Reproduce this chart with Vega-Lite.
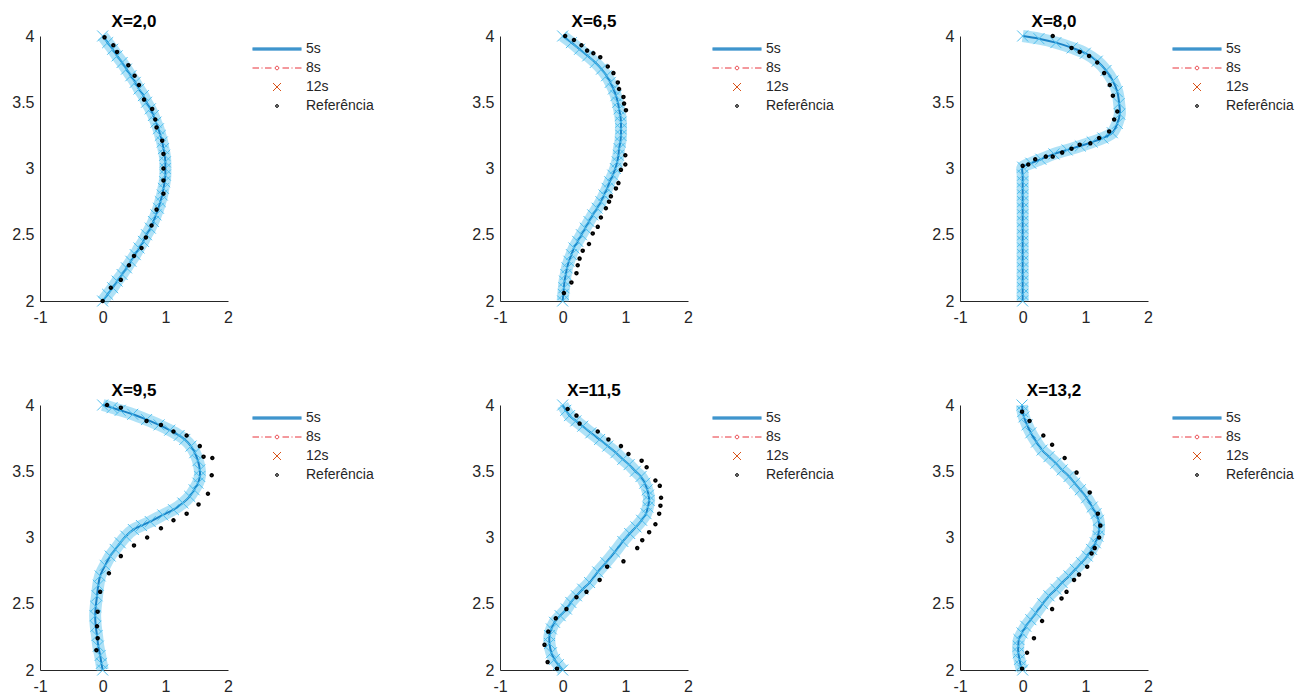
{
  "$schema": "https://vega.github.io/schema/vega-lite/v6.json",
  "background": "white",
  "padding": {"left": 11, "top": 12, "right": 5, "bottom": 5},
  "config": {
    "view": {"stroke": null},
    "axis": {"domainColor": "#262626", "domainWidth": 1, "labelColor": "#262626", "labelFont": "Liberation Sans", "labelFontSize": 16, "ticks": false, "grid": false, "title": null, "labelFlush": false, "labelOverlap": false, "labelPadding": 6, "format": "~g"},
    "axisX": {"labelPadding": 8},
    "title": {"font": "Liberation Sans", "fontSize": 17, "fontWeight": "bold", "color": "#000000", "offset": 6, "anchor": "middle", "frame": "group", "dy": 25},
    "legend": {"labelFont": "Liberation Sans", "labelFontSize": 14, "labelColor": "#262626", "symbolSize": 100, "symbolStrokeWidth": 1, "labelOffset": 22, "rowPadding": 5, "padding": 0}
  },
  "datasets": {
    "sim": [
      {"p":"X=2,0","y":4.0,"x":0.0},{"p":"X=2,0","y":3.95,"x":0.08},{"p":"X=2,0","y":3.9,"x":0.16},{"p":"X=2,0","y":3.85,"x":0.23},{"p":"X=2,0","y":3.8,"x":0.31},{"p":"X=2,0","y":3.75,"x":0.38},{"p":"X=2,0","y":3.7,"x":0.45},{"p":"X=2,0","y":3.65,"x":0.52},{"p":"X=2,0","y":3.6,"x":0.58},{"p":"X=2,0","y":3.55,"x":0.65},{"p":"X=2,0","y":3.5,"x":0.7},{"p":"X=2,0","y":3.45,"x":0.76},{"p":"X=2,0","y":3.4,"x":0.81},{"p":"X=2,0","y":3.35,"x":0.85},{"p":"X=2,0","y":3.3,"x":0.89},{"p":"X=2,0","y":3.25,"x":0.92},{"p":"X=2,0","y":3.2,"x":0.95},{"p":"X=2,0","y":3.15,"x":0.97},{"p":"X=2,0","y":3.1,"x":0.99},{"p":"X=2,0","y":3.05,"x":1.0},{"p":"X=2,0","y":3.0,"x":1.0},{"p":"X=2,0","y":2.95,"x":1.0},{"p":"X=2,0","y":2.9,"x":0.99},{"p":"X=2,0","y":2.85,"x":0.97},{"p":"X=2,0","y":2.8,"x":0.95},{"p":"X=2,0","y":2.75,"x":0.92},{"p":"X=2,0","y":2.7,"x":0.89},{"p":"X=2,0","y":2.65,"x":0.85},{"p":"X=2,0","y":2.6,"x":0.81},{"p":"X=2,0","y":2.55,"x":0.76},{"p":"X=2,0","y":2.5,"x":0.7},{"p":"X=2,0","y":2.45,"x":0.65},{"p":"X=2,0","y":2.4,"x":0.58},{"p":"X=2,0","y":2.35,"x":0.52},{"p":"X=2,0","y":2.3,"x":0.45},{"p":"X=2,0","y":2.25,"x":0.38},{"p":"X=2,0","y":2.2,"x":0.31},{"p":"X=2,0","y":2.15,"x":0.23},{"p":"X=2,0","y":2.1,"x":0.16},{"p":"X=2,0","y":2.05,"x":0.08},{"p":"X=2,0","y":2.0,"x":0.0},

      {"p":"X=6,5","y":4.0,"x":0.0},{"p":"X=6,5","y":3.95,"x":0.14},{"p":"X=6,5","y":3.9,"x":0.27},{"p":"X=6,5","y":3.85,"x":0.4},{"p":"X=6,5","y":3.8,"x":0.52},{"p":"X=6,5","y":3.75,"x":0.62},{"p":"X=6,5","y":3.7,"x":0.7},{"p":"X=6,5","y":3.65,"x":0.76},{"p":"X=6,5","y":3.6,"x":0.81},{"p":"X=6,5","y":3.55,"x":0.85},{"p":"X=6,5","y":3.5,"x":0.88},{"p":"X=6,5","y":3.45,"x":0.9},{"p":"X=6,5","y":3.4,"x":0.92},{"p":"X=6,5","y":3.35,"x":0.93},{"p":"X=6,5","y":3.3,"x":0.93},{"p":"X=6,5","y":3.25,"x":0.93},{"p":"X=6,5","y":3.2,"x":0.92},{"p":"X=6,5","y":3.15,"x":0.9},{"p":"X=6,5","y":3.1,"x":0.89},{"p":"X=6,5","y":3.05,"x":0.87},{"p":"X=6,5","y":3.0,"x":0.84},{"p":"X=6,5","y":2.95,"x":0.8},{"p":"X=6,5","y":2.9,"x":0.75},{"p":"X=6,5","y":2.85,"x":0.71},{"p":"X=6,5","y":2.8,"x":0.66},{"p":"X=6,5","y":2.75,"x":0.61},{"p":"X=6,5","y":2.7,"x":0.55},{"p":"X=6,5","y":2.65,"x":0.48},{"p":"X=6,5","y":2.6,"x":0.42},{"p":"X=6,5","y":2.55,"x":0.36},{"p":"X=6,5","y":2.5,"x":0.3},{"p":"X=6,5","y":2.45,"x":0.24},{"p":"X=6,5","y":2.4,"x":0.18},{"p":"X=6,5","y":2.35,"x":0.14},{"p":"X=6,5","y":2.3,"x":0.1},{"p":"X=6,5","y":2.25,"x":0.07},{"p":"X=6,5","y":2.2,"x":0.05},{"p":"X=6,5","y":2.15,"x":0.03},{"p":"X=6,5","y":2.1,"x":0.02},{"p":"X=6,5","y":2.05,"x":0.01},{"p":"X=6,5","y":2.0,"x":0.0},

      {"p":"X=8,0","y":4.0,"x":0.0},{"p":"X=8,0","y":3.98,"x":0.26},{"p":"X=8,0","y":3.95,"x":0.53},{"p":"X=8,0","y":3.91,"x":0.79},{"p":"X=8,0","y":3.87,"x":1.0},{"p":"X=8,0","y":3.81,"x":1.19},{"p":"X=8,0","y":3.74,"x":1.33},{"p":"X=8,0","y":3.66,"x":1.44},{"p":"X=8,0","y":3.58,"x":1.51},{"p":"X=8,0","y":3.49,"x":1.54},{"p":"X=8,0","y":3.41,"x":1.55},{"p":"X=8,0","y":3.34,"x":1.51},{"p":"X=8,0","y":3.27,"x":1.43},{"p":"X=8,0","y":3.23,"x":1.28},{"p":"X=8,0","y":3.2,"x":1.11},{"p":"X=8,0","y":3.17,"x":0.92},{"p":"X=8,0","y":3.14,"x":0.71},{"p":"X=8,0","y":3.11,"x":0.5},{"p":"X=8,0","y":3.07,"x":0.29},{"p":"X=8,0","y":3.04,"x":0.13},{"p":"X=8,0","y":3.01,"x":0.0},{"p":"X=8,0","y":2.95,"x":0.0},{"p":"X=8,0","y":2.9,"x":0.0},{"p":"X=8,0","y":2.85,"x":0.0},{"p":"X=8,0","y":2.8,"x":0.0},{"p":"X=8,0","y":2.75,"x":0.0},{"p":"X=8,0","y":2.7,"x":0.0},{"p":"X=8,0","y":2.65,"x":0.0},{"p":"X=8,0","y":2.6,"x":0.0},{"p":"X=8,0","y":2.55,"x":0.0},{"p":"X=8,0","y":2.5,"x":0.0},{"p":"X=8,0","y":2.45,"x":0.0},{"p":"X=8,0","y":2.4,"x":0.0},{"p":"X=8,0","y":2.35,"x":0.0},{"p":"X=8,0","y":2.3,"x":0.0},{"p":"X=8,0","y":2.25,"x":0.0},{"p":"X=8,0","y":2.2,"x":0.0},{"p":"X=8,0","y":2.15,"x":0.0},{"p":"X=8,0","y":2.1,"x":0.0},{"p":"X=8,0","y":2.05,"x":0.0},{"p":"X=8,0","y":2.0,"x":0.0},

      {"p":"X=9,5","y":4.0,"x":0.0},{"p":"X=9,5","y":3.98,"x":0.15},{"p":"X=9,5","y":3.96,"x":0.28},{"p":"X=9,5","y":3.93,"x":0.48},{"p":"X=9,5","y":3.89,"x":0.7},{"p":"X=9,5","y":3.85,"x":0.9},{"p":"X=9,5","y":3.81,"x":1.07},{"p":"X=9,5","y":3.77,"x":1.22},{"p":"X=9,5","y":3.74,"x":1.31},{"p":"X=9,5","y":3.69,"x":1.41},{"p":"X=9,5","y":3.64,"x":1.47},{"p":"X=9,5","y":3.58,"x":1.52},{"p":"X=9,5","y":3.51,"x":1.55},{"p":"X=9,5","y":3.46,"x":1.55},{"p":"X=9,5","y":3.41,"x":1.52},{"p":"X=9,5","y":3.36,"x":1.46},{"p":"X=9,5","y":3.31,"x":1.39},{"p":"X=9,5","y":3.26,"x":1.28},{"p":"X=9,5","y":3.21,"x":1.13},{"p":"X=9,5","y":3.17,"x":0.96},{"p":"X=9,5","y":3.12,"x":0.76},{"p":"X=9,5","y":3.09,"x":0.62},{"p":"X=9,5","y":3.06,"x":0.49},{"p":"X=9,5","y":3.01,"x":0.37},{"p":"X=9,5","y":2.96,"x":0.28},{"p":"X=9,5","y":2.91,"x":0.2},{"p":"X=9,5","y":2.86,"x":0.12},{"p":"X=9,5","y":2.79,"x":0.04},{"p":"X=9,5","y":2.71,"x":-0.04},{"p":"X=9,5","y":2.64,"x":-0.07},{"p":"X=9,5","y":2.56,"x":-0.09},{"p":"X=9,5","y":2.48,"x":-0.11},{"p":"X=9,5","y":2.41,"x":-0.12},{"p":"X=9,5","y":2.33,"x":-0.11},{"p":"X=9,5","y":2.26,"x":-0.09},{"p":"X=9,5","y":2.18,"x":-0.07},{"p":"X=9,5","y":2.11,"x":-0.04},{"p":"X=9,5","y":2.05,"x":-0.02},{"p":"X=9,5","y":2.0,"x":0.0},

      {"p":"X=11,5","y":4.0,"x":0.0},{"p":"X=11,5","y":3.96,"x":0.05},{"p":"X=11,5","y":3.92,"x":0.11},{"p":"X=11,5","y":3.88,"x":0.21},{"p":"X=11,5","y":3.84,"x":0.32},{"p":"X=11,5","y":3.79,"x":0.45},{"p":"X=11,5","y":3.74,"x":0.59},{"p":"X=11,5","y":3.69,"x":0.72},{"p":"X=11,5","y":3.64,"x":0.85},{"p":"X=11,5","y":3.59,"x":0.96},{"p":"X=11,5","y":3.55,"x":1.06},{"p":"X=11,5","y":3.5,"x":1.16},{"p":"X=11,5","y":3.46,"x":1.25},{"p":"X=11,5","y":3.41,"x":1.31},{"p":"X=11,5","y":3.36,"x":1.35},{"p":"X=11,5","y":3.32,"x":1.37},{"p":"X=11,5","y":3.28,"x":1.38},{"p":"X=11,5","y":3.23,"x":1.36},{"p":"X=11,5","y":3.18,"x":1.33},{"p":"X=11,5","y":3.13,"x":1.26},{"p":"X=11,5","y":3.08,"x":1.17},{"p":"X=11,5","y":3.03,"x":1.07},{"p":"X=11,5","y":2.97,"x":0.96},{"p":"X=11,5","y":2.89,"x":0.83},{"p":"X=11,5","y":2.81,"x":0.69},{"p":"X=11,5","y":2.74,"x":0.56},{"p":"X=11,5","y":2.66,"x":0.43},{"p":"X=11,5","y":2.61,"x":0.32},{"p":"X=11,5","y":2.56,"x":0.22},{"p":"X=11,5","y":2.51,"x":0.13},{"p":"X=11,5","y":2.46,"x":0.06},{"p":"X=11,5","y":2.41,"x":-0.04},{"p":"X=11,5","y":2.36,"x":-0.13},{"p":"X=11,5","y":2.31,"x":-0.18},{"p":"X=11,5","y":2.26,"x":-0.21},{"p":"X=11,5","y":2.2,"x":-0.21},{"p":"X=11,5","y":2.13,"x":-0.18},{"p":"X=11,5","y":2.08,"x":-0.13},{"p":"X=11,5","y":2.04,"x":-0.07},{"p":"X=11,5","y":2.0,"x":0.0},

      {"p":"X=13,2","y":4.0,"x":-0.01},{"p":"X=13,2","y":3.95,"x":0.0},{"p":"X=13,2","y":3.91,"x":0.02},{"p":"X=13,2","y":3.85,"x":0.07},{"p":"X=13,2","y":3.79,"x":0.13},{"p":"X=13,2","y":3.72,"x":0.22},{"p":"X=13,2","y":3.66,"x":0.31},{"p":"X=13,2","y":3.61,"x":0.42},{"p":"X=13,2","y":3.56,"x":0.53},{"p":"X=13,2","y":3.51,"x":0.63},{"p":"X=13,2","y":3.46,"x":0.74},{"p":"X=13,2","y":3.41,"x":0.83},{"p":"X=13,2","y":3.36,"x":0.92},{"p":"X=13,2","y":3.3,"x":1.02},{"p":"X=13,2","y":3.23,"x":1.11},{"p":"X=13,2","y":3.18,"x":1.17},{"p":"X=13,2","y":3.13,"x":1.21},{"p":"X=13,2","y":3.06,"x":1.22},{"p":"X=13,2","y":3.01,"x":1.2},{"p":"X=13,2","y":2.96,"x":1.16},{"p":"X=13,2","y":2.91,"x":1.1},{"p":"X=13,2","y":2.86,"x":1.03},{"p":"X=13,2","y":2.81,"x":0.94},{"p":"X=13,2","y":2.76,"x":0.84},{"p":"X=13,2","y":2.71,"x":0.74},{"p":"X=13,2","y":2.66,"x":0.63},{"p":"X=13,2","y":2.61,"x":0.53},{"p":"X=13,2","y":2.56,"x":0.42},{"p":"X=13,2","y":2.5,"x":0.32},{"p":"X=13,2","y":2.43,"x":0.21},{"p":"X=13,2","y":2.38,"x":0.13},{"p":"X=13,2","y":2.33,"x":0.05},{"p":"X=13,2","y":2.28,"x":-0.01},{"p":"X=13,2","y":2.23,"x":-0.06},{"p":"X=13,2","y":2.18,"x":-0.07},{"p":"X=13,2","y":2.13,"x":-0.07},{"p":"X=13,2","y":2.08,"x":-0.05},{"p":"X=13,2","y":2.03,"x":-0.03},{"p":"X=13,2","y":2.0,"x":0.0}
    ],
    "ref": [
      {"p":"X=2,0","s":"Referência","y":3.99,"x":0.03},{"p":"X=2,0","s":"Referência","y":3.93,"x":0.17},{"p":"X=2,0","s":"Referência","y":3.88,"x":0.23},{"p":"X=2,0","s":"Referência","y":3.78,"x":0.41},{"p":"X=2,0","s":"Referência","y":3.7,"x":0.51},{"p":"X=2,0","s":"Referência","y":3.63,"x":0.58},{"p":"X=2,0","s":"Referência","y":3.52,"x":0.66},{"p":"X=2,0","s":"Referência","y":3.45,"x":0.79},{"p":"X=2,0","s":"Referência","y":3.37,"x":0.84},{"p":"X=2,0","s":"Referência","y":3.31,"x":0.86},{"p":"X=2,0","s":"Referência","y":3.21,"x":0.95},{"p":"X=2,0","s":"Referência","y":3.11,"x":0.97},{"p":"X=2,0","s":"Referência","y":3.0,"x":0.97},{"p":"X=2,0","s":"Referência","y":2.91,"x":0.97},{"p":"X=2,0","s":"Referência","y":2.81,"x":0.97},{"p":"X=2,0","s":"Referência","y":2.69,"x":0.86},{"p":"X=2,0","s":"Referência","y":2.57,"x":0.78},{"p":"X=2,0","s":"Referência","y":2.48,"x":0.69},{"p":"X=2,0","s":"Referência","y":2.4,"x":0.62},{"p":"X=2,0","s":"Referência","y":2.34,"x":0.5},{"p":"X=2,0","s":"Referência","y":2.27,"x":0.42},{"p":"X=2,0","s":"Referência","y":2.16,"x":0.29},{"p":"X=2,0","s":"Referência","y":2.1,"x":0.13},{"p":"X=2,0","s":"Referência","y":2.0,"x":0.0},

      {"p":"X=6,5","s":"Referência","y":4.0,"x":0.04},{"p":"X=6,5","s":"Referência","y":3.97,"x":0.18},{"p":"X=6,5","s":"Referência","y":3.93,"x":0.3},{"p":"X=6,5","s":"Referência","y":3.89,"x":0.39},{"p":"X=6,5","s":"Referência","y":3.87,"x":0.49},{"p":"X=6,5","s":"Referência","y":3.84,"x":0.6},{"p":"X=6,5","s":"Referência","y":3.77,"x":0.72},{"p":"X=6,5","s":"Referência","y":3.72,"x":0.81},{"p":"X=6,5","s":"Referência","y":3.65,"x":0.88},{"p":"X=6,5","s":"Referência","y":3.6,"x":0.9},{"p":"X=6,5","s":"Referência","y":3.54,"x":0.97},{"p":"X=6,5","s":"Referência","y":3.49,"x":0.98},{"p":"X=6,5","s":"Referência","y":3.44,"x":1.01},{"p":"X=6,5","s":"Referência","y":3.1,"x":1.0},{"p":"X=6,5","s":"Referência","y":3.03,"x":1.0},{"p":"X=6,5","s":"Referência","y":2.99,"x":0.93},{"p":"X=6,5","s":"Referência","y":2.89,"x":0.89},{"p":"X=6,5","s":"Referência","y":2.85,"x":0.85},{"p":"X=6,5","s":"Referência","y":2.79,"x":0.77},{"p":"X=6,5","s":"Referência","y":2.75,"x":0.74},{"p":"X=6,5","s":"Referência","y":2.7,"x":0.69},{"p":"X=6,5","s":"Referência","y":2.63,"x":0.61},{"p":"X=6,5","s":"Referência","y":2.56,"x":0.56},{"p":"X=6,5","s":"Referência","y":2.51,"x":0.48},{"p":"X=6,5","s":"Referência","y":2.43,"x":0.42},{"p":"X=6,5","s":"Referência","y":2.38,"x":0.32},{"p":"X=6,5","s":"Referência","y":2.32,"x":0.27},{"p":"X=6,5","s":"Referência","y":2.27,"x":0.24},{"p":"X=6,5","s":"Referência","y":2.21,"x":0.22},{"p":"X=6,5","s":"Referência","y":2.14,"x":0.14},{"p":"X=6,5","s":"Referência","y":2.06,"x":0.02},

      {"p":"X=8,0","s":"Referência","y":4.0,"x":0.48},{"p":"X=8,0","s":"Referência","y":3.91,"x":0.78},{"p":"X=8,0","s":"Referência","y":3.88,"x":0.91},{"p":"X=8,0","s":"Referência","y":3.85,"x":1.06},{"p":"X=8,0","s":"Referência","y":3.8,"x":1.19},{"p":"X=8,0","s":"Referência","y":3.72,"x":1.3},{"p":"X=8,0","s":"Referência","y":3.63,"x":1.39},{"p":"X=8,0","s":"Referência","y":3.55,"x":1.44},{"p":"X=8,0","s":"Referência","y":3.43,"x":1.51},{"p":"X=8,0","s":"Referência","y":3.37,"x":1.46},{"p":"X=8,0","s":"Referência","y":3.28,"x":1.38},{"p":"X=8,0","s":"Referência","y":3.23,"x":1.22},{"p":"X=8,0","s":"Referência","y":3.19,"x":1.08},{"p":"X=8,0","s":"Referência","y":3.18,"x":0.91},{"p":"X=8,0","s":"Referência","y":3.15,"x":0.78},{"p":"X=8,0","s":"Referência","y":3.12,"x":0.63},{"p":"X=8,0","s":"Referência","y":3.09,"x":0.48},{"p":"X=8,0","s":"Referência","y":3.09,"x":0.37},{"p":"X=8,0","s":"Referência","y":3.07,"x":0.2},{"p":"X=8,0","s":"Referência","y":3.03,"x":0.09},{"p":"X=8,0","s":"Referência","y":3.02,"x":0.0},

      {"p":"X=9,5","s":"Referência","y":4.0,"x":0.07},{"p":"X=9,5","s":"Referência","y":3.98,"x":0.29},{"p":"X=9,5","s":"Referência","y":3.88,"x":0.7},{"p":"X=9,5","s":"Referência","y":3.85,"x":0.93},{"p":"X=9,5","s":"Referência","y":3.8,"x":1.13},{"p":"X=9,5","s":"Referência","y":3.77,"x":1.34},{"p":"X=9,5","s":"Referência","y":3.69,"x":1.55},{"p":"X=9,5","s":"Referência","y":3.61,"x":1.61},{"p":"X=9,5","s":"Referência","y":3.6,"x":1.75},{"p":"X=9,5","s":"Referência","y":3.47,"x":1.74},{"p":"X=9,5","s":"Referência","y":3.33,"x":1.68},{"p":"X=9,5","s":"Referência","y":3.25,"x":1.53},{"p":"X=9,5","s":"Referência","y":3.18,"x":1.34},{"p":"X=9,5","s":"Referência","y":3.13,"x":1.13},{"p":"X=9,5","s":"Referência","y":3.07,"x":0.93},{"p":"X=9,5","s":"Referência","y":3.0,"x":0.71},{"p":"X=9,5","s":"Referência","y":2.94,"x":0.5},{"p":"X=9,5","s":"Referência","y":2.86,"x":0.29},{"p":"X=9,5","s":"Referência","y":2.73,"x":0.1},{"p":"X=9,5","s":"Referência","y":2.59,"x":-0.04},{"p":"X=9,5","s":"Referência","y":2.44,"x":-0.08},{"p":"X=9,5","s":"Referência","y":2.33,"x":-0.09},{"p":"X=9,5","s":"Referência","y":2.24,"x":-0.08},{"p":"X=9,5","s":"Referência","y":2.15,"x":-0.1},

      {"p":"X=11,5","s":"Referência","y":3.97,"x":0.08},{"p":"X=11,5","s":"Referência","y":3.92,"x":0.22},{"p":"X=11,5","s":"Referência","y":3.86,"x":0.27},{"p":"X=11,5","s":"Referência","y":3.8,"x":0.56},{"p":"X=11,5","s":"Referência","y":3.74,"x":0.73},{"p":"X=11,5","s":"Referência","y":3.69,"x":0.93},{"p":"X=11,5","s":"Referência","y":3.63,"x":1.05},{"p":"X=11,5","s":"Referência","y":3.58,"x":1.26},{"p":"X=11,5","s":"Referência","y":3.53,"x":1.34},{"p":"X=11,5","s":"Referência","y":3.43,"x":1.48},{"p":"X=11,5","s":"Referência","y":3.39,"x":1.55},{"p":"X=11,5","s":"Referência","y":3.3,"x":1.57},{"p":"X=11,5","s":"Referência","y":3.24,"x":1.56},{"p":"X=11,5","s":"Referência","y":3.18,"x":1.54},{"p":"X=11,5","s":"Referência","y":3.1,"x":1.48},{"p":"X=11,5","s":"Referência","y":3.04,"x":1.38},{"p":"X=11,5","s":"Referência","y":2.98,"x":1.27},{"p":"X=11,5","s":"Referência","y":2.92,"x":1.19},{"p":"X=11,5","s":"Referência","y":2.82,"x":0.97},{"p":"X=11,5","s":"Referência","y":2.78,"x":0.71},{"p":"X=11,5","s":"Referência","y":2.68,"x":0.59},{"p":"X=11,5","s":"Referência","y":2.59,"x":0.38},{"p":"X=11,5","s":"Referência","y":2.55,"x":0.22},{"p":"X=11,5","s":"Referência","y":2.46,"x":0.06},{"p":"X=11,5","s":"Referência","y":2.39,"x":-0.11},{"p":"X=11,5","s":"Referência","y":2.29,"x":-0.23},{"p":"X=11,5","s":"Referência","y":2.19,"x":-0.29},{"p":"X=11,5","s":"Referência","y":2.06,"x":-0.24},{"p":"X=11,5","s":"Referência","y":2.01,"x":-0.09},

      {"p":"X=13,2","s":"Referência","y":3.95,"x":-0.01},{"p":"X=13,2","s":"Referência","y":3.88,"x":0.11},{"p":"X=13,2","s":"Referência","y":3.77,"x":0.33},{"p":"X=13,2","s":"Referência","y":3.7,"x":0.47},{"p":"X=13,2","s":"Referência","y":3.6,"x":0.67},{"p":"X=13,2","s":"Referência","y":3.49,"x":0.86},{"p":"X=13,2","s":"Referência","y":3.34,"x":1.07},{"p":"X=13,2","s":"Referência","y":3.18,"x":1.2},{"p":"X=13,2","s":"Referência","y":3.09,"x":1.24},{"p":"X=13,2","s":"Referência","y":3.0,"x":1.22},{"p":"X=13,2","s":"Referência","y":2.92,"x":1.15},{"p":"X=13,2","s":"Referência","y":2.88,"x":1.1},{"p":"X=13,2","s":"Referência","y":2.78,"x":1.03},{"p":"X=13,2","s":"Referência","y":2.72,"x":0.9},{"p":"X=13,2","s":"Referência","y":2.68,"x":0.82},{"p":"X=13,2","s":"Referência","y":2.59,"x":0.7},{"p":"X=13,2","s":"Referência","y":2.54,"x":0.62},{"p":"X=13,2","s":"Referência","y":2.46,"x":0.47},{"p":"X=13,2","s":"Referência","y":2.37,"x":0.31},{"p":"X=13,2","s":"Referência","y":2.24,"x":0.18},{"p":"X=13,2","s":"Referência","y":2.13,"x":0.07},{"p":"X=13,2","s":"Referência","y":2.01,"x":-0.01}
    ]
  },
  "columns": 3,
  "spacing": {"row": 104, "column": 272},
  "bounds": "flush",
  "resolve": {"scale": {"color": "independent", "shape": "independent"}, "legend": {"color": "independent", "shape": "independent"}},
  "concat": [
    {"title": "X=2,0", "width": 188, "height": 265, "layer": [
      {"data": {"name": "sim"}, "transform": [{"filter": "datum.p == 'X=2,0'"}], "mark": {"type": "line", "color": "#4DBEEE", "strokeWidth": 12, "opacity": 0.45, "interpolate": "catmull-rom"}, "encoding": {"x": {"field": "x", "type": "quantitative", "scale": {"domain": [-1, 2], "nice": false, "zero": false}, "axis": {"values": [-1, 0, 1, 2], "labelExpr": "datum.value < 0 ? '-' + format(-datum.value, '~g') : format(datum.value, '~g')"}}, "y": {"field": "y", "type": "quantitative", "scale": {"domain": [2, 4], "nice": false, "zero": false}, "axis": {"values": [2, 2.5, 3, 3.5, 4]}}, "order": {"field": "y", "type": "quantitative"}}},
      {"data": {"name": "sim"}, "transform": [{"filter": "datum.p == 'X=2,0'"}], "mark": {"type": "line", "color": "#0072BD", "strokeWidth": 2, "opacity": 0.85, "interpolate": "catmull-rom"}, "encoding": {"x": {"field": "x", "type": "quantitative"}, "y": {"field": "y", "type": "quantitative"}, "order": {"field": "y", "type": "quantitative"}}},
      {"data": {"name": "sim"}, "transform": [{"filter": "datum.p == 'X=2,0'"}], "mark": {"type": "point", "shape": "M-1,-1L1,1M-1,1L1,-1", "color": "#4DBEEE", "size": 120, "strokeWidth": 1, "filled": false, "opacity": 1}, "encoding": {"x": {"field": "x", "type": "quantitative"}, "y": {"field": "y", "type": "quantitative"}}},
      {"data": {"name": "ref"}, "transform": [{"filter": "datum.p == 'X=2,0'"}], "mark": {"type": "point", "filled": false, "size": 100, "strokeWidth": 1.5, "opacity": 1}, "encoding": {"x": {"field": "x", "type": "quantitative"}, "y": {"field": "y", "type": "quantitative"},
        "color": {"field": "s", "type": "nominal", "scale": {"domain": ["5s", "8s", "12s", "Referência"], "range": ["#0072BD", "#E8333A", "#D95319", "#000000"]}, "legend": {"title": null, "orient": "none", "legendX": 230, "legendY": 6}},
        "shape": {"field": "s", "type": "nominal", "scale": {"domain": ["5s", "8s", "12s", "Referência"], "range": ["M-4.9,-0.2L4.9,-0.2M-4.9,0L4.9,0M-4.9,0.2L4.9,0.2", "M-4.9,0L-3.6,0M-3.1,0L-2.9,0M-2.4,0L-1.1,0M-0.35,0A0.35,0.35 0 1 1 0.35,0A0.35,0.35 0 1 1 -0.35,0M1.1,0L2.4,0M2.9,0L3.1,0M3.6,0L4.9,0", "M-0.8,-0.8L0.8,0.8M-0.8,0.8L0.8,-0.8", "M-0.3,0A0.3,0.3 0 1 1 0.3,0A0.3,0.3 0 1 1 -0.3,0M-0.1,0A0.1,0.1 0 1 1 0.1,0A0.1,0.1 0 1 1 -0.1,0"]}, "legend": {"title": null, "orient": "none", "legendX": 230, "legendY": 6}}}}
    ]},
    {"title": "X=6,5", "width": 188, "height": 265, "layer": [
      {"data": {"name": "sim"}, "transform": [{"filter": "datum.p == 'X=6,5'"}], "mark": {"type": "line", "color": "#4DBEEE", "strokeWidth": 12, "opacity": 0.45, "interpolate": "catmull-rom"}, "encoding": {"x": {"field": "x", "type": "quantitative", "scale": {"domain": [-1, 2], "nice": false, "zero": false}, "axis": {"values": [-1, 0, 1, 2], "labelExpr": "datum.value < 0 ? '-' + format(-datum.value, '~g') : format(datum.value, '~g')"}}, "y": {"field": "y", "type": "quantitative", "scale": {"domain": [2, 4], "nice": false, "zero": false}, "axis": {"values": [2, 2.5, 3, 3.5, 4]}}, "order": {"field": "y", "type": "quantitative"}}},
      {"data": {"name": "sim"}, "transform": [{"filter": "datum.p == 'X=6,5'"}], "mark": {"type": "line", "color": "#0072BD", "strokeWidth": 2, "opacity": 0.85, "interpolate": "catmull-rom"}, "encoding": {"x": {"field": "x", "type": "quantitative"}, "y": {"field": "y", "type": "quantitative"}, "order": {"field": "y", "type": "quantitative"}}},
      {"data": {"name": "sim"}, "transform": [{"filter": "datum.p == 'X=6,5'"}], "mark": {"type": "point", "shape": "M-1,-1L1,1M-1,1L1,-1", "color": "#4DBEEE", "size": 120, "strokeWidth": 1, "filled": false, "opacity": 1}, "encoding": {"x": {"field": "x", "type": "quantitative"}, "y": {"field": "y", "type": "quantitative"}}},
      {"data": {"name": "ref"}, "transform": [{"filter": "datum.p == 'X=6,5'"}], "mark": {"type": "point", "filled": false, "size": 100, "strokeWidth": 1.5, "opacity": 1}, "encoding": {"x": {"field": "x", "type": "quantitative"}, "y": {"field": "y", "type": "quantitative"},
        "color": {"field": "s", "type": "nominal", "scale": {"domain": ["5s", "8s", "12s", "Referência"], "range": ["#0072BD", "#E8333A", "#D95319", "#000000"]}, "legend": {"title": null, "orient": "none", "legendX": 230, "legendY": 6}},
        "shape": {"field": "s", "type": "nominal", "scale": {"domain": ["5s", "8s", "12s", "Referência"], "range": ["M-4.9,-0.2L4.9,-0.2M-4.9,0L4.9,0M-4.9,0.2L4.9,0.2", "M-4.9,0L-3.6,0M-3.1,0L-2.9,0M-2.4,0L-1.1,0M-0.35,0A0.35,0.35 0 1 1 0.35,0A0.35,0.35 0 1 1 -0.35,0M1.1,0L2.4,0M2.9,0L3.1,0M3.6,0L4.9,0", "M-0.8,-0.8L0.8,0.8M-0.8,0.8L0.8,-0.8", "M-0.3,0A0.3,0.3 0 1 1 0.3,0A0.3,0.3 0 1 1 -0.3,0M-0.1,0A0.1,0.1 0 1 1 0.1,0A0.1,0.1 0 1 1 -0.1,0"]}, "legend": {"title": null, "orient": "none", "legendX": 230, "legendY": 6}}}}
    ]},
    {"title": "X=8,0", "width": 188, "height": 265, "layer": [
      {"data": {"name": "sim"}, "transform": [{"filter": "datum.p == 'X=8,0'"}], "mark": {"type": "line", "color": "#4DBEEE", "strokeWidth": 12, "opacity": 0.45, "interpolate": "catmull-rom"}, "encoding": {"x": {"field": "x", "type": "quantitative", "scale": {"domain": [-1, 2], "nice": false, "zero": false}, "axis": {"values": [-1, 0, 1, 2], "labelExpr": "datum.value < 0 ? '-' + format(-datum.value, '~g') : format(datum.value, '~g')"}}, "y": {"field": "y", "type": "quantitative", "scale": {"domain": [2, 4], "nice": false, "zero": false}, "axis": {"values": [2, 2.5, 3, 3.5, 4]}}, "order": {"field": "y", "type": "quantitative"}}},
      {"data": {"name": "sim"}, "transform": [{"filter": "datum.p == 'X=8,0'"}], "mark": {"type": "line", "color": "#0072BD", "strokeWidth": 2, "opacity": 0.85, "interpolate": "catmull-rom"}, "encoding": {"x": {"field": "x", "type": "quantitative"}, "y": {"field": "y", "type": "quantitative"}, "order": {"field": "y", "type": "quantitative"}}},
      {"data": {"name": "sim"}, "transform": [{"filter": "datum.p == 'X=8,0'"}], "mark": {"type": "point", "shape": "M-1,-1L1,1M-1,1L1,-1", "color": "#4DBEEE", "size": 120, "strokeWidth": 1, "filled": false, "opacity": 1}, "encoding": {"x": {"field": "x", "type": "quantitative"}, "y": {"field": "y", "type": "quantitative"}}},
      {"data": {"name": "ref"}, "transform": [{"filter": "datum.p == 'X=8,0'"}], "mark": {"type": "point", "filled": false, "size": 100, "strokeWidth": 1.5, "opacity": 1}, "encoding": {"x": {"field": "x", "type": "quantitative"}, "y": {"field": "y", "type": "quantitative"},
        "color": {"field": "s", "type": "nominal", "scale": {"domain": ["5s", "8s", "12s", "Referência"], "range": ["#0072BD", "#E8333A", "#D95319", "#000000"]}, "legend": {"title": null, "orient": "none", "legendX": 230, "legendY": 6}},
        "shape": {"field": "s", "type": "nominal", "scale": {"domain": ["5s", "8s", "12s", "Referência"], "range": ["M-4.9,-0.2L4.9,-0.2M-4.9,0L4.9,0M-4.9,0.2L4.9,0.2", "M-4.9,0L-3.6,0M-3.1,0L-2.9,0M-2.4,0L-1.1,0M-0.35,0A0.35,0.35 0 1 1 0.35,0A0.35,0.35 0 1 1 -0.35,0M1.1,0L2.4,0M2.9,0L3.1,0M3.6,0L4.9,0", "M-0.8,-0.8L0.8,0.8M-0.8,0.8L0.8,-0.8", "M-0.3,0A0.3,0.3 0 1 1 0.3,0A0.3,0.3 0 1 1 -0.3,0M-0.1,0A0.1,0.1 0 1 1 0.1,0A0.1,0.1 0 1 1 -0.1,0"]}, "legend": {"title": null, "orient": "none", "legendX": 230, "legendY": 6}}}}
    ]},
    {"title": "X=9,5", "width": 188, "height": 265, "layer": [
      {"data": {"name": "sim"}, "transform": [{"filter": "datum.p == 'X=9,5'"}], "mark": {"type": "line", "color": "#4DBEEE", "strokeWidth": 12, "opacity": 0.45, "interpolate": "catmull-rom"}, "encoding": {"x": {"field": "x", "type": "quantitative", "scale": {"domain": [-1, 2], "nice": false, "zero": false}, "axis": {"values": [-1, 0, 1, 2], "labelExpr": "datum.value < 0 ? '-' + format(-datum.value, '~g') : format(datum.value, '~g')"}}, "y": {"field": "y", "type": "quantitative", "scale": {"domain": [2, 4], "nice": false, "zero": false}, "axis": {"values": [2, 2.5, 3, 3.5, 4]}}, "order": {"field": "y", "type": "quantitative"}}},
      {"data": {"name": "sim"}, "transform": [{"filter": "datum.p == 'X=9,5'"}], "mark": {"type": "line", "color": "#0072BD", "strokeWidth": 2, "opacity": 0.85, "interpolate": "catmull-rom"}, "encoding": {"x": {"field": "x", "type": "quantitative"}, "y": {"field": "y", "type": "quantitative"}, "order": {"field": "y", "type": "quantitative"}}},
      {"data": {"name": "sim"}, "transform": [{"filter": "datum.p == 'X=9,5'"}], "mark": {"type": "point", "shape": "M-1,-1L1,1M-1,1L1,-1", "color": "#4DBEEE", "size": 120, "strokeWidth": 1, "filled": false, "opacity": 1}, "encoding": {"x": {"field": "x", "type": "quantitative"}, "y": {"field": "y", "type": "quantitative"}}},
      {"data": {"name": "ref"}, "transform": [{"filter": "datum.p == 'X=9,5'"}], "mark": {"type": "point", "filled": false, "size": 100, "strokeWidth": 1.5, "opacity": 1}, "encoding": {"x": {"field": "x", "type": "quantitative"}, "y": {"field": "y", "type": "quantitative"},
        "color": {"field": "s", "type": "nominal", "scale": {"domain": ["5s", "8s", "12s", "Referência"], "range": ["#0072BD", "#E8333A", "#D95319", "#000000"]}, "legend": {"title": null, "orient": "none", "legendX": 230, "legendY": 6}},
        "shape": {"field": "s", "type": "nominal", "scale": {"domain": ["5s", "8s", "12s", "Referência"], "range": ["M-4.9,-0.2L4.9,-0.2M-4.9,0L4.9,0M-4.9,0.2L4.9,0.2", "M-4.9,0L-3.6,0M-3.1,0L-2.9,0M-2.4,0L-1.1,0M-0.35,0A0.35,0.35 0 1 1 0.35,0A0.35,0.35 0 1 1 -0.35,0M1.1,0L2.4,0M2.9,0L3.1,0M3.6,0L4.9,0", "M-0.8,-0.8L0.8,0.8M-0.8,0.8L0.8,-0.8", "M-0.3,0A0.3,0.3 0 1 1 0.3,0A0.3,0.3 0 1 1 -0.3,0M-0.1,0A0.1,0.1 0 1 1 0.1,0A0.1,0.1 0 1 1 -0.1,0"]}, "legend": {"title": null, "orient": "none", "legendX": 230, "legendY": 6}}}}
    ]},
    {"title": "X=11,5", "width": 188, "height": 265, "layer": [
      {"data": {"name": "sim"}, "transform": [{"filter": "datum.p == 'X=11,5'"}], "mark": {"type": "line", "color": "#4DBEEE", "strokeWidth": 12, "opacity": 0.45, "interpolate": "catmull-rom"}, "encoding": {"x": {"field": "x", "type": "quantitative", "scale": {"domain": [-1, 2], "nice": false, "zero": false}, "axis": {"values": [-1, 0, 1, 2], "labelExpr": "datum.value < 0 ? '-' + format(-datum.value, '~g') : format(datum.value, '~g')"}}, "y": {"field": "y", "type": "quantitative", "scale": {"domain": [2, 4], "nice": false, "zero": false}, "axis": {"values": [2, 2.5, 3, 3.5, 4]}}, "order": {"field": "y", "type": "quantitative"}}},
      {"data": {"name": "sim"}, "transform": [{"filter": "datum.p == 'X=11,5'"}], "mark": {"type": "line", "color": "#0072BD", "strokeWidth": 2, "opacity": 0.85, "interpolate": "catmull-rom"}, "encoding": {"x": {"field": "x", "type": "quantitative"}, "y": {"field": "y", "type": "quantitative"}, "order": {"field": "y", "type": "quantitative"}}},
      {"data": {"name": "sim"}, "transform": [{"filter": "datum.p == 'X=11,5'"}], "mark": {"type": "point", "shape": "M-1,-1L1,1M-1,1L1,-1", "color": "#4DBEEE", "size": 120, "strokeWidth": 1, "filled": false, "opacity": 1}, "encoding": {"x": {"field": "x", "type": "quantitative"}, "y": {"field": "y", "type": "quantitative"}}},
      {"data": {"name": "ref"}, "transform": [{"filter": "datum.p == 'X=11,5'"}], "mark": {"type": "point", "filled": false, "size": 100, "strokeWidth": 1.5, "opacity": 1}, "encoding": {"x": {"field": "x", "type": "quantitative"}, "y": {"field": "y", "type": "quantitative"},
        "color": {"field": "s", "type": "nominal", "scale": {"domain": ["5s", "8s", "12s", "Referência"], "range": ["#0072BD", "#E8333A", "#D95319", "#000000"]}, "legend": {"title": null, "orient": "none", "legendX": 230, "legendY": 6}},
        "shape": {"field": "s", "type": "nominal", "scale": {"domain": ["5s", "8s", "12s", "Referência"], "range": ["M-4.9,-0.2L4.9,-0.2M-4.9,0L4.9,0M-4.9,0.2L4.9,0.2", "M-4.9,0L-3.6,0M-3.1,0L-2.9,0M-2.4,0L-1.1,0M-0.35,0A0.35,0.35 0 1 1 0.35,0A0.35,0.35 0 1 1 -0.35,0M1.1,0L2.4,0M2.9,0L3.1,0M3.6,0L4.9,0", "M-0.8,-0.8L0.8,0.8M-0.8,0.8L0.8,-0.8", "M-0.3,0A0.3,0.3 0 1 1 0.3,0A0.3,0.3 0 1 1 -0.3,0M-0.1,0A0.1,0.1 0 1 1 0.1,0A0.1,0.1 0 1 1 -0.1,0"]}, "legend": {"title": null, "orient": "none", "legendX": 230, "legendY": 6}}}}
    ]},
    {"title": "X=13,2", "width": 188, "height": 265, "layer": [
      {"data": {"name": "sim"}, "transform": [{"filter": "datum.p == 'X=13,2'"}], "mark": {"type": "line", "color": "#4DBEEE", "strokeWidth": 12, "opacity": 0.45, "interpolate": "catmull-rom"}, "encoding": {"x": {"field": "x", "type": "quantitative", "scale": {"domain": [-1, 2], "nice": false, "zero": false}, "axis": {"values": [-1, 0, 1, 2], "labelExpr": "datum.value < 0 ? '-' + format(-datum.value, '~g') : format(datum.value, '~g')"}}, "y": {"field": "y", "type": "quantitative", "scale": {"domain": [2, 4], "nice": false, "zero": false}, "axis": {"values": [2, 2.5, 3, 3.5, 4]}}, "order": {"field": "y", "type": "quantitative"}}},
      {"data": {"name": "sim"}, "transform": [{"filter": "datum.p == 'X=13,2'"}], "mark": {"type": "line", "color": "#0072BD", "strokeWidth": 2, "opacity": 0.85, "interpolate": "catmull-rom"}, "encoding": {"x": {"field": "x", "type": "quantitative"}, "y": {"field": "y", "type": "quantitative"}, "order": {"field": "y", "type": "quantitative"}}},
      {"data": {"name": "sim"}, "transform": [{"filter": "datum.p == 'X=13,2'"}], "mark": {"type": "point", "shape": "M-1,-1L1,1M-1,1L1,-1", "color": "#4DBEEE", "size": 120, "strokeWidth": 1, "filled": false, "opacity": 1}, "encoding": {"x": {"field": "x", "type": "quantitative"}, "y": {"field": "y", "type": "quantitative"}}},
      {"data": {"name": "ref"}, "transform": [{"filter": "datum.p == 'X=13,2'"}], "mark": {"type": "point", "filled": false, "size": 100, "strokeWidth": 1.5, "opacity": 1}, "encoding": {"x": {"field": "x", "type": "quantitative"}, "y": {"field": "y", "type": "quantitative"},
        "color": {"field": "s", "type": "nominal", "scale": {"domain": ["5s", "8s", "12s", "Referência"], "range": ["#0072BD", "#E8333A", "#D95319", "#000000"]}, "legend": {"title": null, "orient": "none", "legendX": 230, "legendY": 6}},
        "shape": {"field": "s", "type": "nominal", "scale": {"domain": ["5s", "8s", "12s", "Referência"], "range": ["M-4.9,-0.2L4.9,-0.2M-4.9,0L4.9,0M-4.9,0.2L4.9,0.2", "M-4.9,0L-3.6,0M-3.1,0L-2.9,0M-2.4,0L-1.1,0M-0.35,0A0.35,0.35 0 1 1 0.35,0A0.35,0.35 0 1 1 -0.35,0M1.1,0L2.4,0M2.9,0L3.1,0M3.6,0L4.9,0", "M-0.8,-0.8L0.8,0.8M-0.8,0.8L0.8,-0.8", "M-0.3,0A0.3,0.3 0 1 1 0.3,0A0.3,0.3 0 1 1 -0.3,0M-0.1,0A0.1,0.1 0 1 1 0.1,0A0.1,0.1 0 1 1 -0.1,0"]}, "legend": {"title": null, "orient": "none", "legendX": 230, "legendY": 6}}}}
    ]}
  ]
}
